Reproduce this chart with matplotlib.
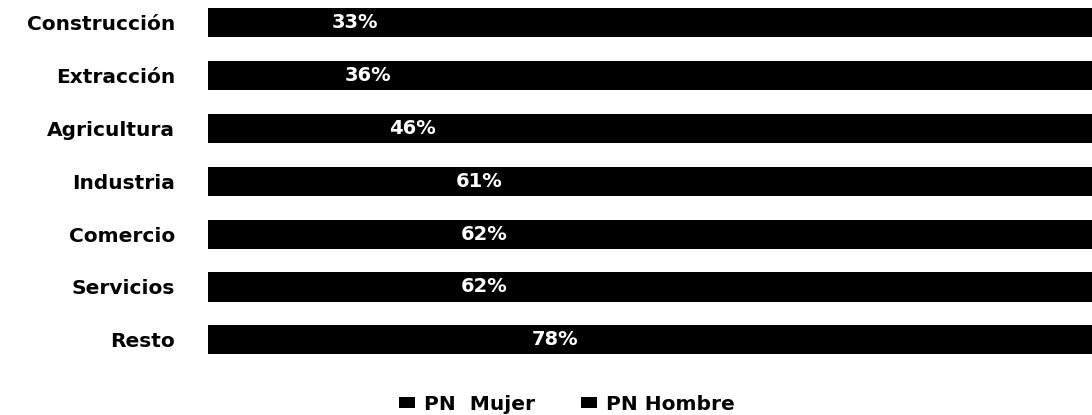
import numpy as np
import matplotlib.pyplot as plt

# data
sectores = ['Construcción', 'Extracción', 'Agricultura', 'Industria',
            'Comercio', 'Servicios', 'Resto']
pn_mujer = [33, 36, 46, 61, 62, 62, 78]
pn_hombre = [100 - v for v in pn_mujer]
serie_labels = ['PN  Mujer', 'PN Hombre']

plt.rcParams['font.family'] = ['DejaVu Sans']
plt.rcParams['font.weight'] = 'bold'

fig = plt.figure(figsize=(10.92, 4.15), dpi=100)
ax = fig.add_axes([208/1092, 1 - 370/415, 1 - 208/1092, 370/415])

y = np.arange(len(sectores))
h = 0.55
b1 = ax.barh(y, pn_mujer, height=h, color='black', linewidth=0,
             label=serie_labels[0])
b2 = ax.barh(y, pn_hombre, left=pn_mujer, height=h, color='black',
             linewidth=0, label=serie_labels[1])

for yi, v in zip(y, pn_mujer):
    ax.text(v / 2, yi, f'{v}%', color='white', fontsize=14,
            fontweight='bold', ha='center', va='center')

ax.set_xlim(0, 99.4)
ax.set_ylim(6.57, -0.425)
ax.set_yticks(y)
ax.set_yticklabels(sectores, fontsize=14.5, fontweight='bold')
ax.tick_params(axis='y', length=0, pad=23.5)
ax.set_xticks([])
for s in ax.spines.values():
    s.set_visible(False)

fig.legend(handles=[b1, b2], loc='center', bbox_to_anchor=(567/1092, 1 - 404/415),
           ncol=2, frameon=False, handlelength=0.8,
           handleheight=0.45, handletextpad=0.45, columnspacing=2.3,
           prop={'weight': 'bold', 'size': 14.5})

fig.savefig('out.png', dpi=100)
